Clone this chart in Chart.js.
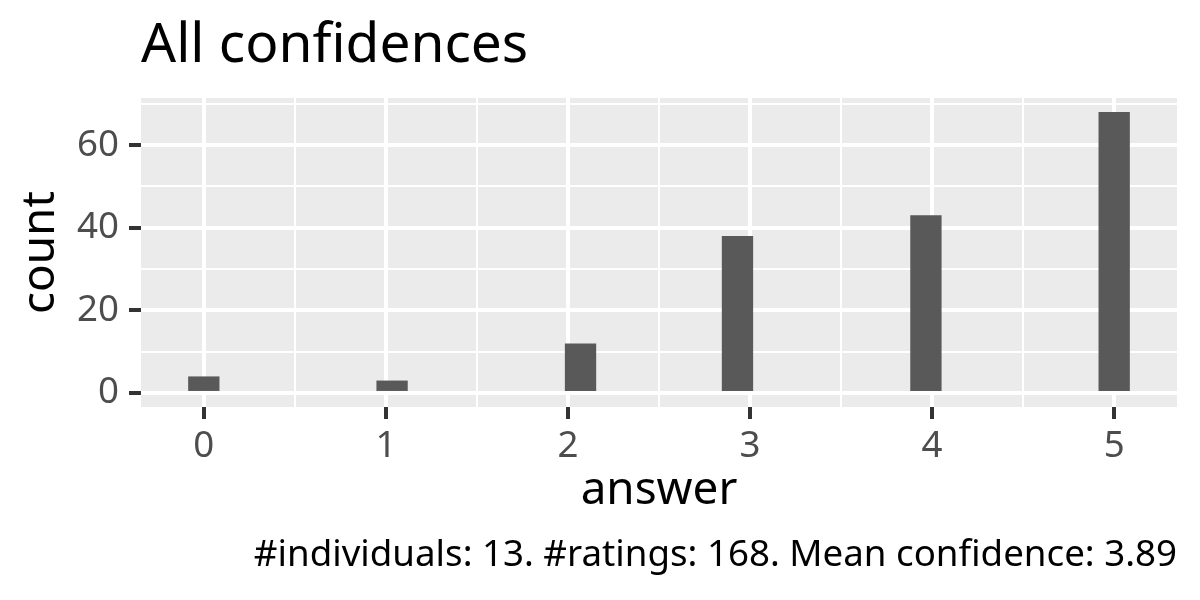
<!DOCTYPE html>
<html>
<head>
<meta charset="utf-8">
<script src="https://cdn.jsdelivr.net/npm/chart.js@4"></script>
<style>
  html, body { margin: 0; padding: 0; background: #ffffff; }
</style>
</head>
<body>
<canvas id="grafico" width="1200" height="600"></canvas>
<script>
// histogram bins (30 bins, width 5/29) and their counts
const binCenters = [0, 0.172, 0.345, 0.517, 0.690, 0.862, 1.034, 1.207, 1.379, 1.552,
                    1.724, 1.897, 2.069, 2.241, 2.414, 2.586, 2.759, 2.931, 3.103, 3.276,
                    3.448, 3.621, 3.793, 3.966, 4.138, 4.310, 4.483, 4.655, 4.828, 5];
const counts = [4, 0, 0, 0, 0, 0, 3, 0, 0, 0,
                0, 0, 12, 0, 0, 0, 0, 38, 0, 0,
                0, 0, 0, 43, 0, 0, 0, 0, 0, 68];

const xMajor = [0, 1, 2, 3, 4, 5];
const xMinor = [0.5, 1.5, 2.5, 3.5, 4.5];
const yMajor = [0, 20, 40, 60];
const yMinor = [10, 30, 50, 70];

const titulo = "All confidences";
const pie = "#individuals: 13. #ratings: 168. Mean confidence: 3.89";

const FONT = "'Noto Sans', 'Open Sans', sans-serif";

const fondoPanel = {
    id: 'fondoPanel',
    beforeDraw(chart) {
        const { ctx, chartArea } = chart;
        ctx.save();
        ctx.fillStyle = '#EBEBEB';
        ctx.fillRect(chartArea.left, chartArea.top, chartArea.right - chartArea.left, chartArea.bottom - chartArea.top);
        ctx.restore();
    },
    afterDraw(chart) {
        const { ctx, chartArea } = chart;
        ctx.save();
        ctx.fillStyle = '#000000';
        ctx.textBaseline = 'alphabetic';
        ctx.font = "55px " + FONT;
        ctx.textAlign = 'left';
        ctx.fillText(titulo, chartArea.left, 62);
        ctx.font = "36.7px " + FONT;
        ctx.textAlign = 'right';
        ctx.fillText(pie, chartArea.right, 566);
        ctx.restore();
    }
};

function esMayor(lista, v) {
    return lista.some(m => Math.abs(m - v) < 1e-9);
}

const grafico = document.getElementById('grafico').getContext('2d');
new Chart(grafico, {
    type: 'bar',
    data: {
        datasets: [{
            data: binCenters.map((x, i) => ({ x: x, y: counts[i] })),
            // empty bins are not drawn
            backgroundColor: ctx => (ctx.raw && ctx.raw.y > 0) ? '#595959' : 'rgba(0,0,0,0)',
            borderWidth: 0,
            inflateAmount: 0,
            barPercentage: 1,
            categoryPercentage: 1
        }]
    },
    options: {
        responsive: false,
        animation: false,
        devicePixelRatio: 1,
        layout: { padding: { left: 0, right: 23, top: 98, bottom: 83 } },
        plugins: {
            legend: { display: false },
            tooltip: { enabled: false },
            title: { display: false }
        },
        scales: {
            x: {
                type: 'linear',
                min: -0.345,
                max: 5.345,
                offset: false,
                afterBuildTicks(scale) {
                    scale.ticks = xMajor.concat(xMinor).sort((a, b) => a - b).map(v => ({ value: v }));
                },
                afterFit(scale) { scale.height = 110; },
                border: { display: false },
                grid: {
                    offset: false,
                    color: '#FFFFFF',
                    lineWidth: ctx => esMayor(xMajor, ctx.tick.value) ? 4 : 2,
                    tickColor: ctx => esMayor(xMajor, ctx.tick.value) ? '#333333' : 'rgba(0,0,0,0)',
                    tickWidth: 4,
                    tickLength: 12
                },
                ticks: {
                    autoSkip: false,
                    maxRotation: 0,
                    padding: 6,
                    color: '#4D4D4D',
                    font: { family: FONT, size: 36.7 },
                    callback: v => esMayor(xMajor, v) ? String(v) : ''
                },
                title: {
                    display: true,
                    text: 'answer',
                    color: '#000000',
                    font: { family: FONT, size: 45.8, lineHeight: 1 },
                    padding: { top: 0, bottom: 3 }
                }
            },
            y: {
                type: 'linear',
                min: -3.4,
                max: 71.4,
                afterBuildTicks(scale) {
                    scale.ticks = yMajor.concat(yMinor).sort((a, b) => a - b).map(v => ({ value: v }));
                },
                afterFit(scale) { scale.width = 141; },
                border: { display: false },
                grid: {
                    color: '#FFFFFF',
                    lineWidth: ctx => esMayor(yMajor, ctx.tick.value) ? 4 : 2,
                    tickColor: ctx => esMayor(yMajor, ctx.tick.value) ? '#333333' : 'rgba(0,0,0,0)',
                    tickWidth: 4,
                    tickLength: 12
                },
                ticks: {
                    autoSkip: false,
                    padding: 10,
                    color: '#4D4D4D',
                    font: { family: FONT, size: 36.7 },
                    callback: v => esMayor(yMajor, v) ? String(v) : ''
                },
                title: {
                    display: true,
                    text: 'count',
                    color: '#000000',
                    font: { family: FONT, size: 45.8, lineHeight: 1 },
                    padding: { top: 18, bottom: 0 }
                }
            }
        }
    },
    plugins: [fondoPanel]
});
</script>
</body>
</html>
